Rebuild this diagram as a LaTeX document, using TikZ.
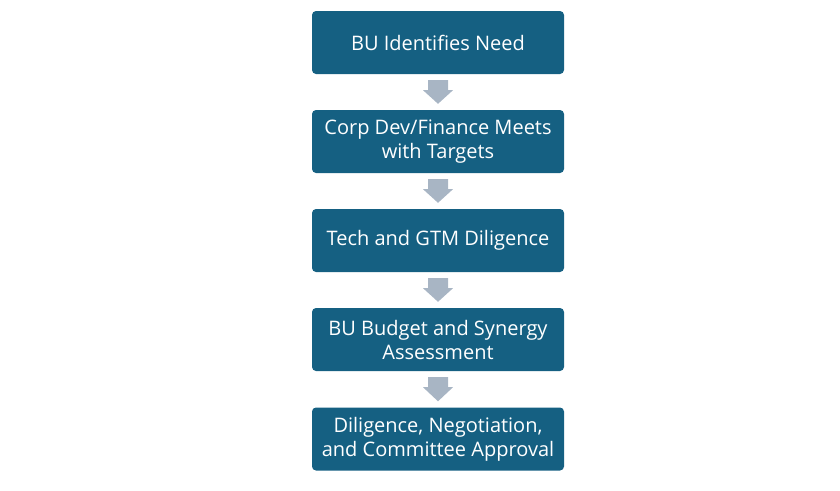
\documentclass[tikz,border=0pt]{standalone}
\usepackage{fontspec}
\setmainfont{Open Sans}
\usetikzlibrary{calc}
\definecolor{boxblue}{HTML}{156082}
\definecolor{arrowgray}{HTML}{A8B5C4}
\tikzset{
  stepbox/.style={fill=boxblue, rounded corners=4pt, minimum width=252pt, minimum height=63pt,
    text=white, align=center, font=\fontsize{20}{24}\selectfont, inner sep=0pt},
}
\newcommand{\blockarrow}[2]{%
  \fill[arrowgray] ($(#1.south)+(-10pt,-6pt)$) -- ($(#1.south)+(10pt,-6pt)$) -- ($(#1.south)+(10pt,-16pt)$)
    -- ($(#1.south)+(15pt,-16pt)$) -- ($(#2.north)+(0,6pt)$) -- ($(#1.south)+(-15pt,-16pt)$)
    -- ($(#1.south)+(-10pt,-16pt)$) -- cycle;}
\begin{document}
\begin{tikzpicture}[x=1pt,y=1pt]
\useasboundingbox (0,0) rectangle (840,-490);
\node[stepbox] (n1) at (438,-42.5) {BU Identifies Need};
\node[stepbox] (n2) at (438,-141.5) {Corp Dev/Finance Meets\\with Targets};
\node[stepbox] (n3) at (438,-240.5) {Tech and GTM Diligence};
\node[stepbox] (n4) at (438,-339.5) {BU Budget and Synergy\\Assessment};
\node[stepbox] (n5) at (438,-439) {Diligence, Negotiation,\\and Committee Approval};
\blockarrow{n1}{n2}
\blockarrow{n2}{n3}
\blockarrow{n3}{n4}
\blockarrow{n4}{n5}
\end{tikzpicture}
\end{document}
